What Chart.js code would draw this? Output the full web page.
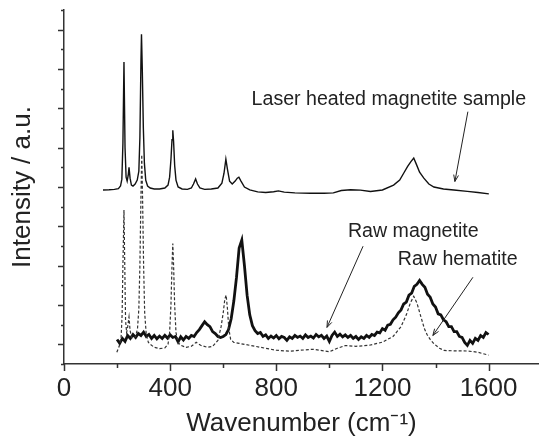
<!DOCTYPE html>
<html>
<head>
<meta charset="utf-8">
<script src="https://cdn.jsdelivr.net/npm/chart.js@4"></script>
<style>
  html, body { margin: 0; padding: 0; background: #fff; }
  canvas { display: block; }
</style>
</head>
<body>
<canvas id="spectra" width="539" height="440"></canvas>
<script>
/* Raman spectra: laser heated magnetite, raw magnetite, raw hematite */

// x axis ticks (wavenumber)
var xTickLabels = [0, 400, 800, 1200, 1600];
var xMinorTicks = [200, 600, 1000, 1400];
// y axis ticks (no labels)
var yMajorTicks = [1, 3, 5, 7, 9, 11, 13, 15, 17];
var yMinorTicks = [0, 2, 4, 6, 8, 10, 12, 14, 16, 18];

// Laser heated magnetite sample (offset upward)
var laserWn = [147, 170, 190, 205, 213, 218, 222, 226, 230, 234, 238, 242, 245, 249, 254, 260, 268, 276, 282, 286,
  290, 292, 295, 299, 303, 308, 315, 325, 340, 360, 380, 392, 398, 403, 407, 410, 413, 417, 422, 430,
  445, 465, 480, 488, 496, 503, 512, 530, 555, 580, 595, 603, 610, 616, 624, 634, 645, 653, 659, 667,
  680, 700, 730, 760, 790, 808, 830, 870, 928, 980, 1015, 1045, 1080, 1117, 1155, 1200, 1242, 1265, 1280, 1295,
  1308, 1318, 1328, 1340, 1356, 1375, 1394, 1430, 1469, 1520, 1560, 1601];
var laserInt = [8.85, 8.86, 8.88, 8.92, 9.05, 9.4, 11.2, 15.35, 11.0, 9.5, 9.3, 9.6, 10.0, 9.45, 9.1, 9.05, 9.15, 9.35, 9.8, 11.5,
  15.4, 16.76, 15.0, 12.0, 10.2, 9.35, 9.05, 8.95, 8.9, 8.9, 8.95, 9.1, 9.5, 10.4, 11.4, 11.88, 11.3, 10.1, 9.35, 9.0,
  8.9, 8.88, 8.95, 9.15, 9.41, 9.15, 8.95, 8.88, 8.9, 8.95, 9.2, 9.7, 10.42, 9.9, 9.3, 9.15, 9.3, 9.45, 9.5, 9.3,
  9.0, 8.85, 8.75, 8.72, 8.76, 8.8, 8.74, 8.7, 8.68, 8.68, 8.7, 8.82, 8.86, 8.84, 8.77, 8.85, 9.1, 9.35, 9.7, 10.05,
  10.3, 10.47, 10.15, 9.75, 9.45, 9.15, 9.0, 8.9, 8.85, 8.78, 8.72, 8.65];

// Raw magnetite (noisy, thick)
var magWn = [200, 210, 220, 230, 240, 250, 260, 270, 280, 290, 300, 310, 320, 330, 340, 350, 360, 370, 380, 390,
  400, 410, 420, 430, 440, 450, 460, 470, 480, 490, 500, 510, 520, 530, 540, 550, 560, 570, 580, 590,
  600, 610, 620, 630, 640, 650, 660, 670, 680, 690, 700, 710, 720, 730, 740, 750, 760, 770, 780, 790,
  800, 810, 820, 830, 840, 850, 860, 870, 880, 890, 900, 910, 920, 930, 940, 950, 960, 970, 980, 990,
  1000, 1010, 1020, 1030, 1040, 1050, 1060, 1070, 1080, 1090, 1100, 1110, 1120, 1130, 1140, 1150, 1160, 1170, 1180, 1190,
  1200, 1210, 1220, 1230, 1240, 1250, 1260, 1270, 1280, 1290, 1300, 1310, 1320, 1330, 1340, 1350, 1360, 1370, 1380, 1390,
  1400, 1410, 1420, 1430, 1440, 1450, 1460, 1470, 1480, 1490, 1500, 1510, 1520, 1530, 1540, 1550, 1560, 1570, 1580, 1590, 1600];
var magInt = [1.25, 1.05, 1.3, 1.15, 1.45, 1.3, 1.5, 1.35, 1.55, 1.45, 1.62, 1.4, 1.5, 1.3, 1.45, 1.28, 1.42, 1.3, 1.46, 1.32,
  1.48, 1.35, 1.4, 1.12, 1.38, 1.22, 1.4, 1.3, 1.45, 1.4, 1.6, 1.75, 1.95, 2.15, 2.0, 1.9, 1.65, 1.55, 1.4, 1.35,
  1.4, 1.5, 1.75, 2.3, 3.2, 4.4, 5.9, 6.3, 5.0, 3.5, 2.5, 1.95, 1.7, 1.55, 1.6, 1.4, 1.48, 1.3, 1.42, 1.32,
  1.45, 1.28, 1.4, 1.35, 1.2, 1.38, 1.3, 1.45, 1.35, 1.42, 1.3, 1.48, 1.35, 1.42, 1.32, 1.5, 1.38, 1.46, 1.3, 1.42,
  1.15, 1.45, 1.62, 1.4, 1.52, 1.38, 1.48, 1.35, 1.45, 1.3, 1.4, 1.25, 1.38, 1.3, 1.45, 1.35, 1.5, 1.45, 1.62, 1.58,
  1.8, 1.72, 1.98, 2.02, 2.25, 2.38, 2.6, 2.75, 3.05, 3.15, 3.5, 3.6, 3.95, 4.05, 4.25, 4.05, 3.9, 3.55, 3.4, 3.05,
  2.9, 2.55, 2.5, 2.25, 2.15, 1.9, 1.9, 1.65, 1.65, 1.4, 1.35, 1.1, 0.95, 1.2, 1.05, 1.3, 1.2, 1.45, 1.35, 1.6, 1.5];

// Raw hematite (dotted)
var hemWn = [199, 208, 215, 219, 222, 226, 229, 232, 236, 240, 245, 249, 255, 262, 270, 277, 282, 286, 290, 293,
  296, 300, 304, 310, 318, 325, 340, 360, 380, 392, 398, 403, 407, 410, 413, 417, 422, 430, 440, 460,
  480, 498, 515, 540, 560, 580, 592, 600, 606, 611, 616, 621, 628, 640, 660, 680, 700, 740, 800, 850,
  891, 940, 1000, 1030, 1060, 1100, 1150, 1200, 1240, 1270, 1290, 1305, 1318, 1330, 1345, 1358, 1368, 1380, 1394, 1415,
  1432, 1470, 1520, 1560, 1580, 1600];
var hemInt = [0.6, 0.9, 1.3, 2.5, 5.0, 7.83, 5.0, 2.2, 1.6, 1.9, 2.39, 1.7, 1.35, 1.3, 1.4, 1.8, 2.8, 5.0, 8.5, 10.64,
  8.5, 5.0, 2.6, 1.5, 1.1, 1.0, 0.85, 0.78, 0.82, 1.0, 1.6, 3.0, 5.0, 6.13, 5.0, 3.0, 1.6, 1.1, 0.95, 0.85,
  0.9, 1.1, 0.95, 0.85, 0.9, 1.2, 1.9, 2.6, 3.3, 3.5, 2.8, 1.8, 1.25, 1.1, 1.05, 1.0, 0.95, 0.85, 0.7, 0.65,
  0.7, 0.75, 0.62, 0.8, 0.94, 0.9, 0.95, 1.11, 1.4, 1.9, 2.5, 3.1, 3.44, 3.1, 2.4, 1.8, 1.5, 1.25, 1.03, 0.8,
  0.69, 0.67, 0.66, 0.6, 0.52, 0.45];

var FONT = '"Liberation Sans", Arial, Helvetica, sans-serif';
var INK = '#222';

function toPoints(xs, ys) {
  return xs.map(function (x, i) { return { x: x, y: ys[i] }; });
}

/* 目盛り（長短）を描くプラグイン */
var tickMarks = {
  id: 'tickMarks',
  afterDraw: function (chart) {
    var ctx = chart.ctx, xs = chart.scales.x, ys = chart.scales.y;
    var area = chart.chartArea;
    ctx.save();
    ctx.strokeStyle = '#333';
    ctx.lineWidth = 1.5;
    ctx.beginPath();
    xTickLabels.forEach(function (v) {
      var px = Math.round(xs.getPixelForValue(v)) + 0.5;
      ctx.moveTo(px, area.bottom); ctx.lineTo(px, area.bottom + 7);
    });
    xMinorTicks.forEach(function (v) {
      var px = Math.round(xs.getPixelForValue(v)) + 0.5;
      ctx.moveTo(px, area.bottom); ctx.lineTo(px, area.bottom + 4);
    });
    yMajorTicks.forEach(function (v) {
      var py = Math.round(ys.getPixelForValue(v)) + 0.5;
      ctx.moveTo(area.left, py); ctx.lineTo(area.left - 6, py);
    });
    yMinorTicks.forEach(function (v) {
      var py = Math.round(ys.getPixelForValue(v)) + 0.5;
      ctx.moveTo(area.left, py); ctx.lineTo(area.left - 3, py);
    });
    ctx.stroke();
    ctx.restore();
  }
};

/* 注記（テキストと矢印） */
var notes = {
  id: 'notes',
  afterDraw: function (chart) {
    var ctx = chart.ctx, xs = chart.scales.x, ys = chart.scales.y;
    var items = [
      { text: 'Laser heated magnetite sample', at: [707, 13.19], from: [1522, 12.83], to: [1473, 9.28] },
      { text: 'Raw magnetite', at: [1070, 6.47], from: [1127, 5.99], to: [991, 1.86] },
      { text: 'Raw hematite', at: [1258, 5.03], from: [1541, 4.41], to: [1390, 1.45] }
    ];
    ctx.save();
    ctx.fillStyle = INK;
    ctx.strokeStyle = INK;
    ctx.lineWidth = 1;
    ctx.font = '19.6px ' + FONT;
    ctx.textBaseline = 'alphabetic';
    items.forEach(function (it) {
      ctx.fillText(it.text, xs.getPixelForValue(it.at[0]), ys.getPixelForValue(it.at[1]));
      var x1 = xs.getPixelForValue(it.from[0]), y1 = ys.getPixelForValue(it.from[1]);
      var x2 = xs.getPixelForValue(it.to[0]), y2 = ys.getPixelForValue(it.to[1]);
      var a = Math.atan2(y2 - y1, x2 - x1), h = 7;
      ctx.beginPath();
      ctx.moveTo(x1, y1); ctx.lineTo(x2, y2);
      ctx.moveTo(x2 - h * Math.cos(a - 0.35), y2 - h * Math.sin(a - 0.35));
      ctx.lineTo(x2, y2);
      ctx.lineTo(x2 - h * Math.cos(a + 0.35), y2 - h * Math.sin(a + 0.35));
      ctx.stroke();
    });
    ctx.restore();
  }
};

var chart = new Chart(document.getElementById('spectra'), {
  type: 'line',
  data: {
    datasets: [{
      label: 'Raw hematite',
      data: toPoints(hemWn, hemInt),
      borderColor: '#333',
      borderWidth: 1.2,
      borderDash: [3, 2]
    }, {
      label: 'Raw magnetite',
      data: toPoints(magWn, magInt),
      borderColor: '#111',
      borderWidth: 2.8
    }, {
      label: 'Laser heated magnetite sample',
      data: toPoints(laserWn, laserInt),
      borderColor: '#111',
      borderWidth: 1.4
    }]
  },
  options: {
    responsive: false,
    animation: false,
    devicePixelRatio: 1,
    layout: { padding: { top: 10, left: 0, right: 0, bottom: 0 } },
    elements: { point: { radius: 0 }, line: { tension: 0 } },
    plugins: { legend: { display: false }, tooltip: { enabled: false } },
    scales: {
      x: {
        type: 'linear',
        min: 0,
        max: 1790,
        afterBuildTicks: function (s) {
          s.ticks = xTickLabels.map(function (v) { return { value: v }; });
        },
        afterFit: function (s) { s.height = 76; },
        grid: { drawOnChartArea: false, color: 'transparent', tickLength: 7 },
        border: { display: true, color: '#333', width: 1.5 },
        ticks: {
          color: INK, padding: 2, maxRotation: 0,
          font: { family: FONT, size: 26 },
          callback: function (value) { return '' + value; }
        },
        title: {
          display: true,
          text: 'Wavenumber (cm\u207B\u00B9)',
          color: INK,
          padding: { top: 0, bottom: 1 },
          font: { family: FONT, size: 26 }
        }
      },
      y: {
        type: 'linear',
        min: 0,
        max: 18,
        afterFit: function (s) { s.width = 64; },
        grid: { display: false },
        border: { display: true, color: '#333', width: 1.5 },
        ticks: { display: false },
        title: {
          display: true,
          text: 'Intensity / a.u.',
          color: INK,
          padding: { top: 7, bottom: 0 },
          font: { family: FONT, size: 26 }
        }
      }
    }
  },
  plugins: [tickMarks, notes]
});
</script>
</body>
</html>
